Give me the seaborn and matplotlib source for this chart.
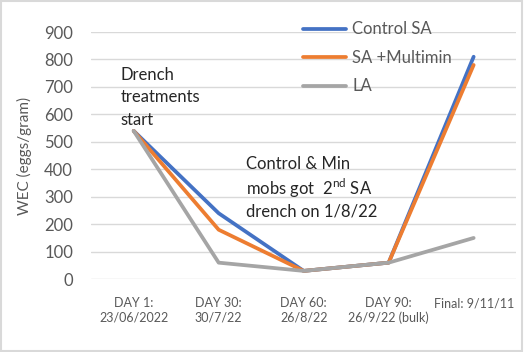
import seaborn as sns
import matplotlib.pyplot as plt
import pandas as pd
from matplotlib.patches import Rectangle

# dados
categorias = ["DAY 1:\n23/06/2022", "DAY 30:\n30/7/22", "DAY 60:\n26/8/22",
              "DAY 90:\n26/9/22 (bulk)", "Final: 9/11/11"]
control_sa = [540, 240, 30, 60, 810]
sa_multimin = [540, 180, 30, 60, 780]
la = [540, 60, 30, 60, 150]
series = ["Control SA", "SA +Multimin", "LA"]
cores = ["#4472C4", "#ED7D31", "#A5A5A5"]
yticks = [0, 100, 200, 300, 400, 500, 600, 700, 800, 900]

df = pd.DataFrame({
    "dia": categorias * 3,
    "wec": control_sa + sa_multimin + la,
    "grupo": [series[0]] * 5 + [series[1]] * 5 + [series[2]] * 5,
})

sns.set_style("white")
plt.rcParams["font.family"] = ["Lato", "DejaVu Sans"]
plt.rcParams["mathtext.fontset"] = "custom"
plt.rcParams["mathtext.rm"] = "Lato"

fig = plt.figure(figsize=(5.24, 3.52), dpi=100)
ax = fig.add_axes([0.174, 0.207, 0.811, 0.702])

sns.lineplot(data=df, x="dia", y="wec", hue="grupo", palette=cores,
             linewidth=2.7, sort=False, ax=ax)

ax.set_xlim(-0.5, 4.5)
ax.set_ylim(0, 900)
ax.set_yticks(yticks)
ax.grid(axis="y", color="#D9D9D9", linewidth=1)
ax.set_axisbelow(True)
for s in ax.spines.values():
    s.set_visible(False)
ax.tick_params(axis="y", labelsize=12, colors="#595959", length=0, pad=13)
ax.tick_params(axis="x", labelsize=9, colors="#595959", length=0, pad=13)
for lbl in ax.get_xticklabels():
    lbl.set_verticalalignment("top")
ax.set_xlabel("")
ax.set_ylabel("WEC (eggs/gram)", fontsize=11, color="#595959", labelpad=9)

leg = ax.legend(loc="upper left", bbox_to_anchor=(0.483, 1.07), frameon=False,
                fontsize=12, handlelength=2.6, labelspacing=0.75,
                handletextpad=0.35, borderaxespad=0)
for t in leg.get_texts():
    t.set_color("#595959")

# anotacoes
ax.text(0.07, 0.86, "Drench\ntreatments\nstart", transform=ax.transAxes,
        fontsize=12, va="top", ha="left", linespacing=1.5)
linhas = ["Control & Min", r"mobs got  2$^{\mathrm{nd}}$ SA", "drench on 1/8/22"]
for i, txt in enumerate(linhas):
    ax.text(0.365, 0.464 - i * 0.095, txt, transform=ax.transAxes,
            fontsize=12, va="center", ha="left")

fig.patches.append(Rectangle((0.002, 0.003), 0.995, 0.994, transform=fig.transFigure,
                             fill=False, edgecolor="#D9D9D9", linewidth=1.5))

fig.savefig("out.png", dpi=100)
